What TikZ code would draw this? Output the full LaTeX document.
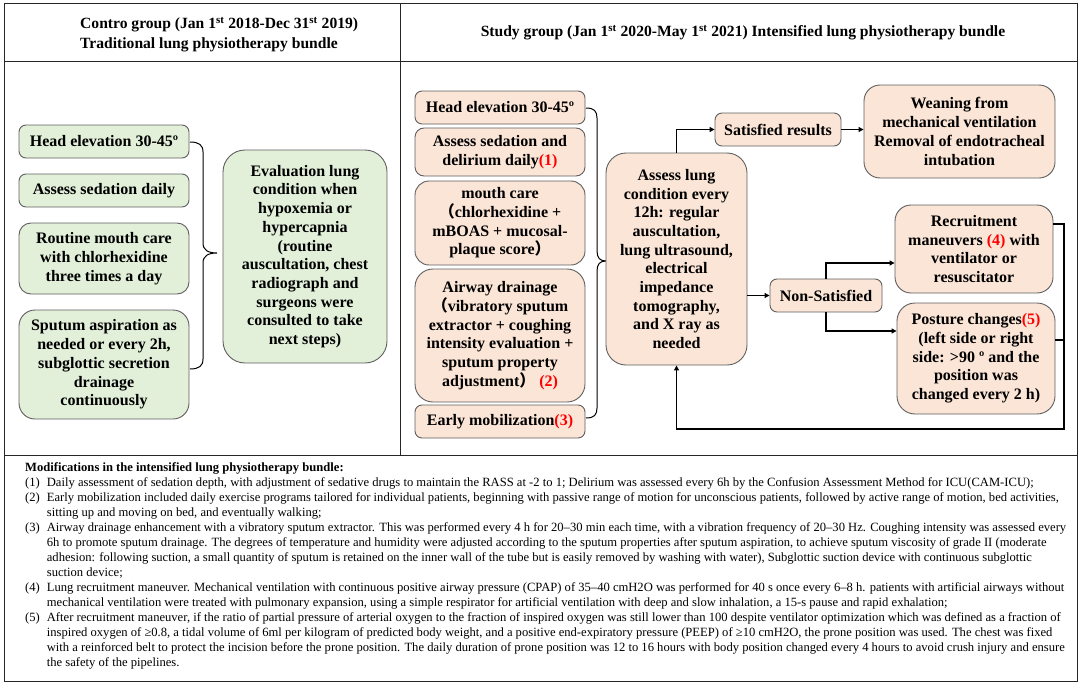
\documentclass[tikz,border=0pt]{standalone}
\usepackage{fontspec}
\setmainfont{Liberation Serif}
\newfontfamily\cjk{Noto Sans CJK SC}
\usetikzlibrary{arrows.meta,positioning,calc}
\definecolor{bgreen}{HTML}{E2EFD9}
\definecolor{borange}{HTML}{FBE5D6}
\definecolor{bline}{HTML}{5F5F5F}
\definecolor{nred}{HTML}{FF0000}
\newcommand{\nr}[1]{\textcolor{nred}{#1}}
\newcommand{\lp}{{\cjk （}}
\newcommand{\rp}{{\cjk ）}}

\begin{document}
\begin{tikzpicture}[x=1pt,y=-1pt,
  stepbox/.style={draw=bline,line width=0.9pt,rounded corners=7pt,inner sep=0pt,align=center,
    font=\fontsize{16}{18.7}\selectfont\bfseries},
  gbox/.style={stepbox,fill=bgreen},
  obox/.style={stepbox,fill=borange},
  head/.style={inner sep=0pt,font=\fontsize{15.6}{20}\selectfont\bfseries},
  notes/.style={inner sep=0pt,font=\fontsize{12.6}{15}\selectfont},
  arr/.style={-{Triangle[length=5pt,width=5pt]},line width=1.2pt},
  link/.style={line width=1.2pt},
  brace/.style={line width=1pt},
  frame/.style={line width=1pt,draw=black!85}
]
  \useasboundingbox (0,0) rectangle (1084,685);

  % Frame
  \draw[frame] (4,4) rectangle (1077,681);
  \draw[frame] (4,62) -- (1077,62);
  \draw[frame] (4,455) -- (1077,455);
  \draw[frame] (400,4) -- (400,455);

  % Headers
  \node[head,align=left,anchor=west] (hctl) at (80,35) {Contro group (Jan 1\textsuperscript{st} 2018-Dec 31\textsuperscript{st} 2019)\\Traditional lung physiotherapy bundle};
  \node[head] (hstd) at (743,33) {Study group (Jan 1\textsuperscript{st} 2020-May 1\textsuperscript{st} 2021) Intensified lung physiotherapy bundle};

  % Control group
  \node[gbox,minimum width=170pt,minimum height=33pt] (lh1) at (104,141.5) {Head elevation 30-45º};
  \node[gbox,minimum width=170pt,minimum height=33pt] (lh2) at (104,190.5) {Assess sedation daily};
  \node[gbox,minimum width=170pt,minimum height=71pt,rounded corners=12pt] (lh3) at (104,258.5) {Routine mouth care\\with chlorhexidine\\three times a day};
  \node[gbox,minimum width=170pt,minimum height=109pt,rounded corners=16pt] (lh4) at (104,364.5) {Sputum aspiration as\\needed or every 2h,\\subglottic secretion\\drainage\\continuously};
  \node[gbox,minimum width=164pt,minimum height=213pt,rounded corners=22pt] (leval) at (305,256.5) {Evaluation lung\\condition when\\hypoxemia or\\hypercapnia\\(routine\\auscultation, chest\\radiograph and\\surgeons were\\consulted to take\\next steps)};
  \draw[brace] (190,142) .. controls (199,142) and (203,145) .. (203,152) -- (203,243)
    .. controls (203,250) and (208,253) .. (217,253) .. controls (208,253) and (203,256) .. (203,263)
    -- (203,359) .. controls (203,366) and (199,369) .. (190,369);

  % Study group
  \node[obox,minimum width=170pt,minimum height=33pt] (mh1) at (500,107.5) {Head elevation 30-45º};
  \node[obox,minimum width=170pt,minimum height=48pt,rounded corners=9pt] (mh2) at (500,152) {Assess sedation and\\delirium daily\nr{(1)}};
  \node[obox,minimum width=170pt,minimum height=84pt,rounded corners=14pt] (mh3) at (500,223) {mouth care\\\lp chlorhexidine +\\mBOAS + mucosal-\\plaque score\rp};
  \node[obox,minimum width=170pt,minimum height=133pt,rounded corners=18pt] (mh4) at (500,335.5) {Airway drainage\\\lp vibratory sputum\\extractor + coughing\\intensity evaluation +\\sputum property\\adjustment\rp\ \nr{(2)}};
  \node[obox,minimum width=170pt,minimum height=33pt] (mh5) at (500,421.5) {Early mobilization\nr{(3)}};
  \draw[brace] (586,108) .. controls (594,108) and (597,111) .. (597,118) -- (597,251)
    .. controls (597,258) and (600,261) .. (606,261) .. controls (600,261) and (597,264) .. (597,271)
    -- (597,408) .. controls (597,415) and (594,418) .. (586,418);

  \node[obox,minimum width=141pt,minimum height=212pt,rounded corners=20pt] (lung) at (676.5,259) {Assess lung\\condition every\\12h: regular\\auscultation,\\lung ultrasound,\\electrical\\impedance\\tomography,\\and X ray as\\needed};
  \node[obox,minimum width=126pt,minimum height=33pt] (sat) at (778,129.5) {Satisfied results};
  \node[obox,minimum width=191pt,minimum height=93pt,rounded corners=16pt] (wean) at (959.5,131.5) {Weaning from\\mechanical ventilation\\Removal of endotracheal\\intubation};
  \node[obox,minimum width=112pt,minimum height=33pt] (nonsat) at (826,295.5) {Non-Satisfied};
  \node[obox,minimum width=158pt,minimum height=88pt,rounded corners=16pt] (recr) at (974,249) {Recruitment\\maneuvers \nr{(4)} with\\ventilator or\\resuscitator};
  \node[obox,minimum width=158pt,minimum height=111pt,rounded corners=18pt] (post) at (976,358.5) {Posture changes\nr{(5)}\\(left side or right\\side: >90 º and the\\position was\\changed every 2 h)};

  % Connectors
  \coordinate (fb) at (1064,429);
  \draw[arr] (lung.north) |- (sat.west);
  \draw[arr] (sat.east) -- (sat.east -| wean.west);
  \draw[arr] (lung.east |- nonsat.west) -- (nonsat.west);
  \draw[arr] (nonsat.north) |- ([yshift=-14pt]recr.west);
  \draw[arr] (nonsat.south) |- ([yshift=27.5pt]post.west);
  \draw[arr] ([yshift=25pt]recr.east) -| (fb) -| (lung.south);
  \draw[link] ([yshift=18.5pt]post.east) -- ([yshift=18.5pt]post.east -| fb);

  % Notes
  \node[notes,anchor=north west] (mods) at (25,461) {\begin{tabular}{@{}l@{\hspace{7pt}}l@{}}
    \multicolumn{2}{@{}l@{}}{\textbf{Modifications in the intensified lung physiotherapy bundle:}}\\
    (1) & Daily assessment of sedation depth, with adjustment of sedative drugs to maintain the RASS at -2 to 1; Delirium was assessed every 6h by the Confusion Assessment Method for ICU(CAM-ICU);\\
    (2) & Early mobilization included daily exercise programs tailored for individual patients, beginning with passive range of motion for unconscious patients, followed by active range of motion, bed activities,\\
        & sitting up and moving on bed, and eventually walking;\\
    (3) & Airway drainage enhancement with a vibratory sputum extractor. This was performed every 4 h for 20–30 min each time, with a vibration frequency of 20–30 Hz. Coughing intensity was assessed every\\
        & 6h to promote sputum drainage. The degrees of temperature and humidity were adjusted according to the sputum properties after sputum aspiration, to achieve sputum viscosity of grade II (moderate\\
        & adhesion: following suction, a small quantity of sputum is retained on the inner wall of the tube but is easily removed by washing with water), Subglottic suction device with continuous subglottic\\
        & suction device;\\
    (4) & Lung recruitment maneuver. Mechanical ventilation with continuous positive airway pressure (CPAP) of 35–40 cmH2O was performed for 40 s once every 6–8 h. patients with artificial airways without\\
        & mechanical ventilation were treated with pulmonary expansion, using a simple respirator for artificial ventilation with deep and slow inhalation, a 15-s pause and rapid exhalation;\\
    (5) & After recruitment maneuver, if the ratio of partial pressure of arterial oxygen to the fraction of inspired oxygen was still lower than 100 despite ventilator optimization which was defined as a fraction of\\
        & inspired oxygen of ≥0.8, a tidal volume of 6ml per kilogram of predicted body weight, and a positive end-expiratory pressure (PEEP) of ≥10 cmH2O, the prone position was used. The chest was fixed\\
        & with a reinforced belt to protect the incision before the prone position. The daily duration of prone position was 12 to 16 hours with body position changed every 4 hours to avoid crush injury and ensure\\
        & the safety of the pipelines.
  \end{tabular}};
\end{tikzpicture}
\end{document}
